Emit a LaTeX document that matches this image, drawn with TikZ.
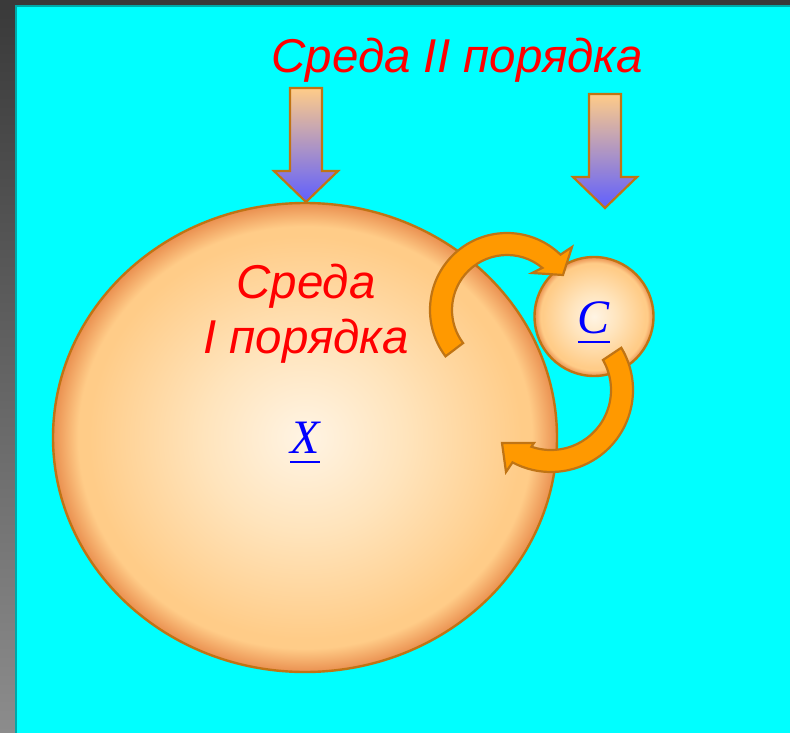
\documentclass[tikz,border=0pt]{standalone}
\usepackage{fontspec}
\setmainfont{Liberation Sans}
\newfontfamily\serifit{Liberation Serif}
\usetikzlibrary{shapes.geometric}
\definecolor{ballc0}{HTML}{FFF4E4}
\definecolor{ballc1}{HTML}{FFE4BC}
\definecolor{ballc2}{HTML}{FFCC88}
\definecolor{ballc3}{HTML}{EA9050}
\definecolor{rim}{HTML}{C07414}
\definecolor{arrowfill}{HTML}{FF9900}
\definecolor{peach}{HTML}{FFCC88}
\definecolor{violet}{HTML}{5F5FFF}
\definecolor{bgcyan}{HTML}{00FFFF}
\definecolor{teal}{HTML}{00A8A8}
\definecolor{darkframe}{HTML}{3A3A3A}
\definecolor{lightframe}{HTML}{8C8C8C}
\pgfdeclareradialshading{ball}{\pgfpoint{0bp}{0bp}}{color(0bp)=(ballc0); color(10bp)=(ballc1); color(21.5bp)=(ballc2); color(22.5bp)=(ballc2); color(25bp)=(ballc3); color(50bp)=(ballc3)}
\tikzset{
  ballstyle/.style={shading=ball, draw=rim, line width=2.4pt, inner sep=0pt},
  curvearrow/.style={fill=arrowfill, draw=rim, line width=2.2pt, line join=miter},
  downarrow/.style={top color=peach, bottom color=violet, draw=rim, line width=2.2pt, line join=miter},
  redtext/.style={text=red, font=\fontsize{47.5}{55}\selectfont\itshape, inner sep=0pt, anchor=base},
  lbl/.style={text=blue, font=\serifit\itshape\fontsize{48}{50}\selectfont, inner sep=0pt, anchor=base},
  ul/.style={draw=blue, line width=2.5pt}
}
\begin{document}
\begin{tikzpicture}[x=1pt,y=1pt]
\useasboundingbox (0,0) rectangle (790,-733);
% frame
\fill[darkframe] (0,0) rectangle (790,-733);
\shade[top color=darkframe, bottom color=lightframe] (0,-5) rectangle (15,-733);
\fill[teal] (15,-5) rectangle (790,-733);
\fill[bgcyan] (17,-7) rectangle (790,-733);
% circles
\node[ballstyle, ellipse, minimum width=504, minimum height=469] (big) at (305,-437.5) {};
\node[ballstyle, circle, minimum size=119] (small) at (594,-316.5) {};
% labels in circles
\node[redtext] (s1a) at (306,-298) {Среда};
\node[redtext] (s1b) at (306,-353) {I порядка};
\node[lbl] (xl) at (305,-453) {X};
\draw[ul] ([yshift=-9]xl.base west) -- ([yshift=-9]xl.base east);
\node[lbl] (cl) at (594,-333) {C};
\draw[ul] ([yshift=-9]cl.base west) -- ([yshift=-9]cl.base east);
% top text
\node[redtext] (s2) at (457,-73) {Среда II порядка};
% down arrows
\draw[downarrow] (290,-88) -- (322,-88) -- (322,-171) -- (338,-171) -- (306,-202) -- (274,-171) -- (290,-171) -- cycle;
\draw[downarrow] (589,-94) -- (621,-94) -- (621,-177) -- (637,-177) -- (605,-208) -- (573,-177) -- (589,-177) -- cycle;
% curved arrows
\begin{scope}[shift={(507,-310)}]
\draw[curvearrow] (217:77) arc[start angle=217, end angle=46, radius=77] -- (65,63) -- (56,35) -- (25,37) -- (50:55) arc[start angle=50, end angle=217, radius=55] -- cycle;
\end{scope}
\begin{scope}[shift={(551,-390)}]
\draw[curvearrow] (31:82) arc[start angle=31, end angle=-118, radius=82] -- (-45,-82) -- (-49,-53) -- (-17,-53) -- (-109:60) arc[start angle=-109, end angle=30, radius=60] -- cycle;
\end{scope}
\end{tikzpicture}
\end{document}
